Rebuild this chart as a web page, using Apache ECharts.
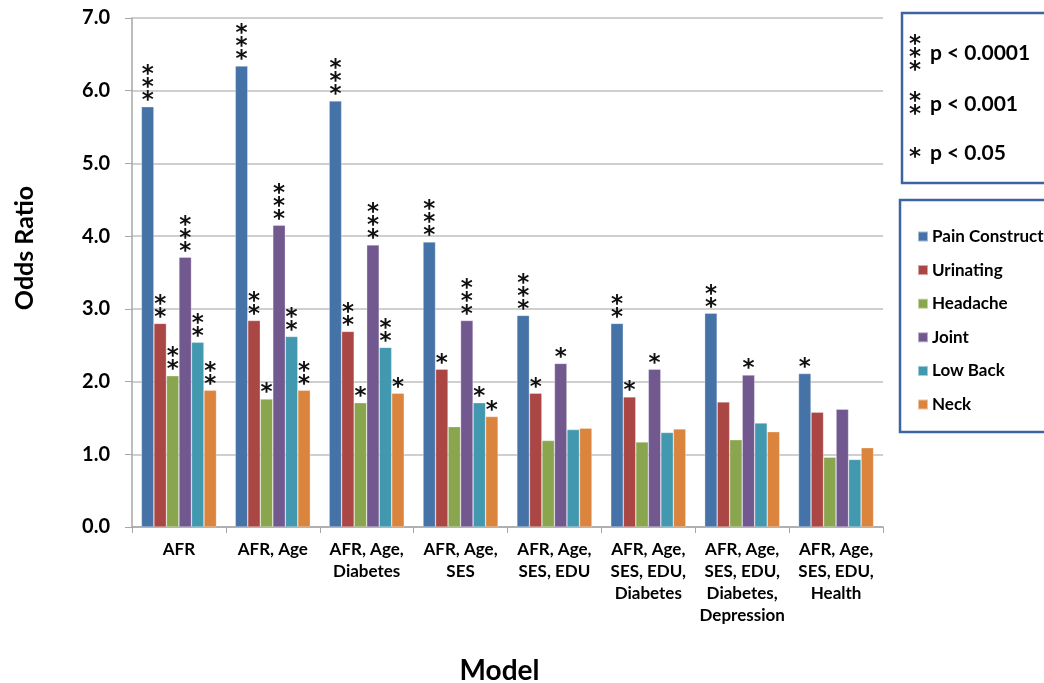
<!DOCTYPE html>
<html><head><meta charset="utf-8">
<script src="https://cdn.jsdelivr.net/npm/echarts@6/dist/echarts.min.js"></script>
<style>html,body{margin:0;padding:0;background:#fff}#c{width:1044px;height:683px}</style>
</head><body><div id="c"></div>
<script>
var categories = ['AFR', 'AFR, Age', 'AFR, Age,\nDiabetes', 'AFR, Age,\nSES', 'AFR, Age,\nSES, EDU', 'AFR, Age,\nSES, EDU,\nDiabetes', 'AFR, Age,\nSES, EDU,\nDiabetes,\nDepression', 'AFR, Age,\nSES, EDU,\nHealth'];
var seriesNames = ['Pain Construct', 'Urinating', 'Headache', 'Joint', 'Low Back', 'Neck'];
var painConstruct = [5.78, 6.34, 5.86, 3.92, 2.91, 2.80, 2.94, 2.11];
var urinating     = [2.80, 2.84, 2.69, 2.17, 1.84, 1.79, 1.72, 1.58];
var headache      = [2.08, 1.76, 1.71, 1.38, 1.19, 1.17, 1.20, 0.96];
var joint         = [3.71, 4.15, 3.88, 2.84, 2.25, 2.17, 2.09, 1.62];
var lowBack       = [2.54, 2.62, 2.47, 1.71, 1.34, 1.30, 1.43, 0.93];
var neck          = [1.88, 1.88, 1.84, 1.52, 1.36, 1.35, 1.31, 1.09];
// significance: number of stars
var sigPain     = [3, 3, 3, 3, 3, 2, 2, 1];
var sigUrinating= [2, 2, 2, 1, 1, 1, 0, 0];
var sigHeadache = [2, 1, 1, 0, 0, 0, 0, 0];
var sigJoint    = [3, 3, 3, 3, 1, 1, 1, 0];
var sigLowBack  = [2, 2, 2, 1, 0, 0, 0, 0];
var sigNeck     = [2, 2, 1, 1, 0, 0, 0, 0];
var yTicks = ['0.0', '1.0', '2.0', '3.0', '4.0', '5.0', '6.0', '7.0'];
var sigLegend = [['p < 0.0001', 3], ['p < 0.001', 2], ['p < 0.05', 1]];
var yTitle = 'Odds Ratio';
var xTitle = 'Model';

var colors = ['#4572a7', '#aa4643', '#89a54e', '#71588f', '#4198af', '#db843d'];
var values = [painConstruct, urinating, headache, joint, lowBack, neck];
var sigs = [sigPain, sigUrinating, sigHeadache, sigJoint, sigLowBack, sigNeck];
var FONT = 'Lato';

function stars(n) { var a = []; for (var i = 0; i < n; i++) a.push('*'); return a.join('\n'); }

var chart = echarts.init(document.getElementById('c'));
var series = seriesNames.map(function (name, si) {
  return {
    name: name, type: 'bar', data: values[si],
    barGap: '0%', barCategoryGap: '20%',
    itemStyle: { color: colors[si], borderColor: 'rgba(255,255,255,0.5)', borderWidth: 0.6 },
    label: {
      show: true, position: 'top', distance: -1,
      formatter: function (p) { return stars(sigs[si][p.dataIndex]); },
      fontFamily: 'DejaVu Sans', fontWeight: 'bold', fontSize: 23, lineHeight: 13, color: '#111'
    },
    emphasis: { disabled: true }
  };
});

var graphics = [
  { type: 'rect', shape: { x: 902, y: 13, width: 160, height: 170 }, style: { fill: '#fff', stroke: '#3c64a0', lineWidth: 2.5 } },
  { type: 'rect', shape: { x: 900, y: 200, width: 160, height: 232 }, style: { fill: '#fff', stroke: '#3c64a0', lineWidth: 2.5 } },
  { type: 'text', x: 25, y: 248, rotation: Math.PI / 2, style: { text: yTitle, font: 'bold 25px ' + FONT, fill: '#000', align: 'center', verticalAlign: 'middle' } }
];
var sigY = [53, 104, 153];
sigLegend.forEach(function (s, i) {
  graphics.push({ type: 'text', x: 915, y: sigY[i] + 5, style: { text: stars(s[1]), font: 'bold 23px "DejaVu Sans"', lineHeight: 13, fill: '#111', align: 'center', verticalAlign: 'middle' } });
  graphics.push({ type: 'text', x: 930, y: sigY[i], style: { text: s[0], font: 'bold 21px ' + FONT, fill: '#000', verticalAlign: 'middle' } });
});

chart.setOption({
  animation: false,
  color: colors,
  grid: { left: 132, right: 161, top: 18, bottom: 156, containLabel: false, outerBoundsMode: 'none' },
  graphic: graphics,
  legend: {
    orient: 'vertical', left: 912, top: 223, itemWidth: 10, itemHeight: 10, itemGap: 16.6,
    icon: 'rect', selectedMode: false,
    textStyle: { fontFamily: FONT, fontWeight: 'bold', fontSize: 17, lineHeight: 17, color: '#000', padding: [0, 0, 0, -1] },
    data: seriesNames
  },
  xAxis: {
    type: 'category', data: categories,
    name: xTitle, nameLocation: 'middle', nameGap: 130,
    nameTextStyle: { fontFamily: FONT, fontWeight: 'bold', fontSize: 28, color: '#000', padding: [0, 16, 0, 0] },
    axisLine: { lineStyle: { color: '#a6a6a6', width: 1.5 } },
    axisTick: { show: true, length: 6, lineStyle: { color: '#a6a6a6' } },
    axisLabel: { interval: 0, fontFamily: FONT, fontWeight: 'bold', fontSize: 17, lineHeight: 22, color: '#000', margin: 12 }
  },
  yAxis: {
    type: 'value', min: 0, max: 7, interval: 1,
    axisLine: { show: true, lineStyle: { color: '#a6a6a6', width: 1.5 } },
    axisTick: { show: true, length: 7, lineStyle: { color: '#a6a6a6' } },
    axisLabel: { formatter: function (v) { return yTicks[v]; }, fontFamily: FONT, fontWeight: 'bold', fontSize: 20, color: '#000', margin: 22 },
    splitLine: { lineStyle: { color: '#bfbfbf', width: 1.5 } }
  },
  series: series
});
</script></body></html>
